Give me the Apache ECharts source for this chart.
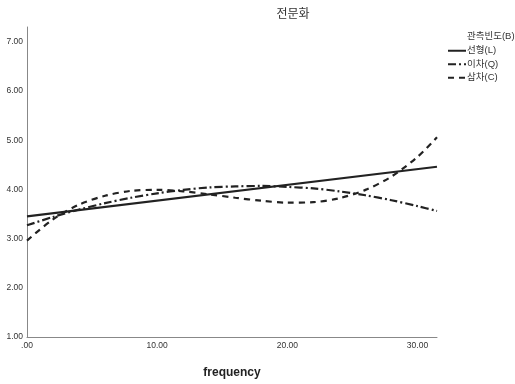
<!DOCTYPE html>
<html>
<head>
<meta charset="utf-8">
<script src="https://cdn.jsdelivr.net/npm/echarts@6/dist/echarts.min.js"></script>
<style>html,body{margin:0;padding:0;background:#fff;}#c{width:515px;height:384px;}</style>
</head>
<body>
<div id="c"></div>
<script>
const xValues = [0, 2, 4, 6, 8, 10, 12, 14, 16, 18, 20, 22, 24, 26, 28, 30, 31.5];
const linearX = [0, 31.5];
const linearY = [3.45, 4.46];
const quadY = [3.27, 3.44, 3.59, 3.72, 3.83, 3.92, 3.99, 4.04, 4.06, 4.07, 4.05, 4.02, 3.96, 3.88, 3.78, 3.66, 3.56];
const cubicY = [2.96, 3.39, 3.69, 3.87, 3.97, 3.99, 3.96, 3.90, 3.83, 3.77, 3.73, 3.74, 3.82, 3.99, 4.26, 4.66, 5.06];
const seriesNames = ['선형(L)', '이차(Q)', '삼차(C)'];
const titleText = '전문화';
const legendTitle = '관측빈도(B)';
const xName = 'frequency';

const FONT = '"Liberation Sans", Arial, "Noto Sans CJK KR", sans-serif';
const pairs = (xs, ys) => xs.map((x, i) => [x, ys[i]]);
const chart = echarts.init(document.getElementById('c'));
chart.setOption({
  animation: false,
  backgroundColor: '#fff',
  grid: { left: 27, right: 78, top: 27, bottom: 42, containLabel: false },
  graphic: [
    { type: 'text', x: 293, y: 15, style: { text: titleText, fill: '#333', font: '12px ' + FONT, textAlign: 'center', textVerticalAlign: 'middle' } },
    { type: 'text', x: 467, y: 36, style: { text: legendTitle, fill: '#333', font: '9.5px ' + FONT, textAlign: 'left', textVerticalAlign: 'middle' } }
  ],
  legend: {
    orient: 'vertical', left: 447, top: 46, itemWidth: 18, itemHeight: 8, itemGap: 4, padding: 0,
    itemStyle: { opacity: 0 },
    textStyle: { fontSize: 9.5, color: '#333', fontFamily: FONT, padding: [0, 0, 0, -4] },
    data: seriesNames
  },
  xAxis: {
    type: 'value', min: 0, max: 31.5, interval: 10,
    name: xName, nameLocation: 'middle', nameGap: 30,
    nameTextStyle: { fontSize: 12, fontWeight: 'bold', color: '#222', fontFamily: FONT },
    axisLine: { show: true, lineStyle: { color: '#888', width: 1 } },
    axisTick: { show: false },
    splitLine: { show: false },
    axisLabel: { fontSize: 8.5, color: '#333', fontFamily: FONT, margin: 4, showMaxLabel: false,
      formatter: v => (Number.isInteger(v) ? (v === 0 ? '.00' : v.toFixed(2)) : '') }
  },
  yAxis: {
    type: 'value', min: 1, max: 7.3, interval: 1,
    axisLine: { show: true, lineStyle: { color: '#888', width: 1 } },
    axisTick: { show: false },
    splitLine: { show: false },
    axisLabel: { fontSize: 8.5, color: '#333', fontFamily: FONT, margin: 4, showMaxLabel: false,
      formatter: v => (Number.isInteger(v) ? v.toFixed(2) : '') }
  },
  series: [
    { name: seriesNames[0], type: 'line', data: pairs(linearX, linearY), showSymbol: false, symbol: 'none',
      lineStyle: { color: '#222', width: 2.2, type: 'solid' }, itemStyle: { color: '#222' } },
    { name: seriesNames[1], type: 'line', data: pairs(xValues, quadY), showSymbol: false, symbol: 'none', smooth: 0.3,
      lineStyle: { color: '#222', width: 2.2, type: [8, 3, 2, 3] }, itemStyle: { color: '#222' } },
    { name: seriesNames[2], type: 'line', data: pairs(xValues, cubicY), showSymbol: false, symbol: 'none', smooth: 0.3,
      lineStyle: { color: '#222', width: 2.2, type: [6, 5] }, itemStyle: { color: '#222' } }
  ]
});
</script>
</body>
</html>
